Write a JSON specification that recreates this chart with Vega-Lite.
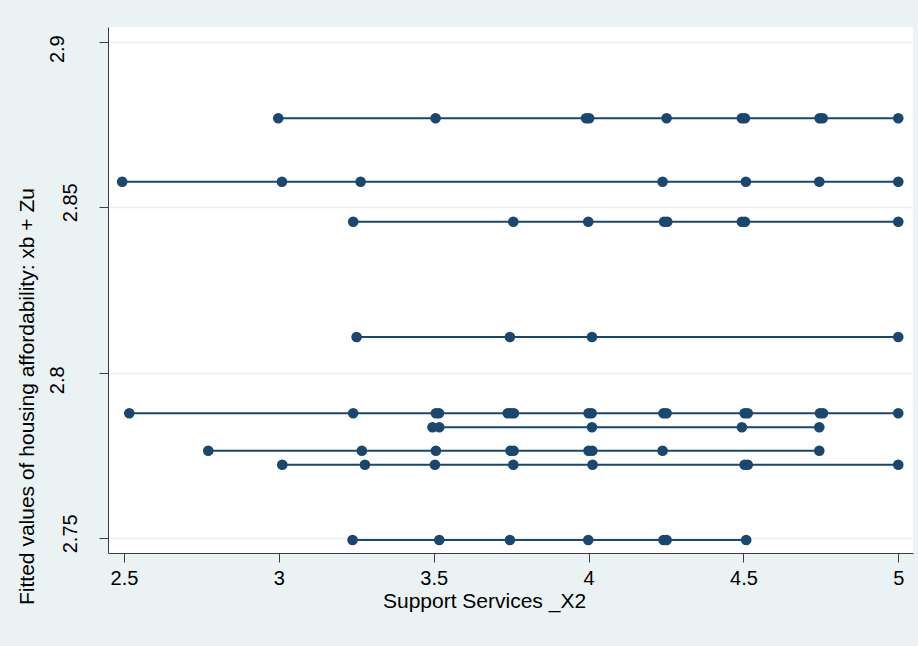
{
  "$schema": "https://vega.github.io/schema/vega-lite/v6.json",
  "autosize": {"type": "none"},
  "padding": {"left": 108, "top": 27, "right": 5, "bottom": 93},
  "width": 805,
  "height": 526,
  "background": "#eaf2f3",
  "config": {
    "font": "Liberation Sans",
    "view": {"fill": "white", "stroke": null}
  },
  "data": {
    "values": [
      {"grp": "A", "x": 2.998, "y": 2.87686},
      {"grp": "A", "x": 3.506, "y": 2.87686},
      {"grp": "A", "x": 3.992, "y": 2.87686},
      {"grp": "A", "x": 4.002, "y": 2.87686},
      {"grp": "A", "x": 4.252, "y": 2.87686},
      {"grp": "A", "x": 4.495, "y": 2.87686},
      {"grp": "A", "x": 4.505, "y": 2.87686},
      {"grp": "A", "x": 4.746, "y": 2.87686},
      {"grp": "A", "x": 4.756, "y": 2.87686},
      {"grp": "A", "x": 5.0, "y": 2.87686},

      {"grp": "B", "x": 2.494, "y": 2.85771},
      {"grp": "B", "x": 3.010, "y": 2.85771},
      {"grp": "B", "x": 3.264, "y": 2.85771},
      {"grp": "B", "x": 4.239, "y": 2.85771},
      {"grp": "B", "x": 4.508, "y": 2.85771},
      {"grp": "B", "x": 4.745, "y": 2.85771},
      {"grp": "B", "x": 5.0, "y": 2.85771},

      {"grp": "C", "x": 3.240, "y": 2.84563},
      {"grp": "C", "x": 3.757, "y": 2.84563},
      {"grp": "C", "x": 3.999, "y": 2.84563},
      {"grp": "C", "x": 4.244, "y": 2.84563},
      {"grp": "C", "x": 4.254, "y": 2.84563},
      {"grp": "C", "x": 4.495, "y": 2.84563},
      {"grp": "C", "x": 4.505, "y": 2.84563},
      {"grp": "C", "x": 5.0, "y": 2.84563},

      {"grp": "D", "x": 3.251, "y": 2.81081},
      {"grp": "D", "x": 3.746, "y": 2.81081},
      {"grp": "D", "x": 4.011, "y": 2.81081},
      {"grp": "D", "x": 5.0, "y": 2.81081},

      {"grp": "E", "x": 2.517, "y": 2.78776},
      {"grp": "E", "x": 3.240, "y": 2.78776},
      {"grp": "E", "x": 3.507, "y": 2.78776},
      {"grp": "E", "x": 3.517, "y": 2.78776},
      {"grp": "E", "x": 3.739, "y": 2.78776},
      {"grp": "E", "x": 3.749, "y": 2.78776},
      {"grp": "E", "x": 3.759, "y": 2.78776},
      {"grp": "E", "x": 4.000, "y": 2.78776},
      {"grp": "E", "x": 4.010, "y": 2.78776},
      {"grp": "E", "x": 4.242, "y": 2.78776},
      {"grp": "E", "x": 4.252, "y": 2.78776},
      {"grp": "E", "x": 4.504, "y": 2.78776},
      {"grp": "E", "x": 4.514, "y": 2.78776},
      {"grp": "E", "x": 4.747, "y": 2.78776},
      {"grp": "E", "x": 4.757, "y": 2.78776},
      {"grp": "E", "x": 5.0, "y": 2.78776},

      {"grp": "F", "x": 3.496, "y": 2.78353},
      {"grp": "F", "x": 3.518, "y": 2.78353},
      {"grp": "F", "x": 4.011, "y": 2.78353},
      {"grp": "F", "x": 4.495, "y": 2.78353},
      {"grp": "F", "x": 4.745, "y": 2.78353},

      {"grp": "G", "x": 2.772, "y": 2.77646},
      {"grp": "G", "x": 3.268, "y": 2.77646},
      {"grp": "G", "x": 3.507, "y": 2.77646},
      {"grp": "G", "x": 3.748, "y": 2.77646},
      {"grp": "G", "x": 3.758, "y": 2.77646},
      {"grp": "G", "x": 4.000, "y": 2.77646},
      {"grp": "G", "x": 4.012, "y": 2.77646},
      {"grp": "G", "x": 4.239, "y": 2.77646},
      {"grp": "G", "x": 4.745, "y": 2.77646},

      {"grp": "H", "x": 3.011, "y": 2.77223},
      {"grp": "H", "x": 3.278, "y": 2.77223},
      {"grp": "H", "x": 3.504, "y": 2.77223},
      {"grp": "H", "x": 3.757, "y": 2.77223},
      {"grp": "H", "x": 4.013, "y": 2.77223},
      {"grp": "H", "x": 4.504, "y": 2.77223},
      {"grp": "H", "x": 4.514, "y": 2.77223},
      {"grp": "H", "x": 5.0, "y": 2.77223},

      {"grp": "I", "x": 3.238, "y": 2.74949},
      {"grp": "I", "x": 3.518, "y": 2.74949},
      {"grp": "I", "x": 3.746, "y": 2.74949},
      {"grp": "I", "x": 3.999, "y": 2.74949},
      {"grp": "I", "x": 4.242, "y": 2.74949},
      {"grp": "I", "x": 4.252, "y": 2.74949},
      {"grp": "I", "x": 4.509, "y": 2.74949}
    ]
  },
  "encoding": {
    "x": {
      "field": "x",
      "type": "quantitative",
      "scale": {"domain": [2.4483, 5.0476], "nice": false, "zero": false},
      "axis": {
        "title": "Support Services _X2",
        "values": [2.5, 3, 3.5, 4, 4.5, 5],
        "format": "~g",
        "grid": false,
        "domainColor": "#3c3c3c",
        "domainWidth": 1,
        "tickColor": "#3c3c3c",
        "tickSize": 9,
        "labelPadding": 6,
        "labelFontSize": 20,
        "labelColor": "black",
        "labelFlush": false,
        "labelOverlap": false,
        "titleFontSize": 21,
        "titleFontWeight": "normal",
        "titleColor": "black",
        "titleX": 376,
        "titleY": 54,
        "titleAlign": "center",
        "titleBaseline": "alphabetic"
      }
    },
    "y": {
      "field": "y",
      "type": "quantitative",
      "scale": {"domain": [2.74556, 2.90444], "nice": false, "zero": false},
      "axis": {
        "title": "Fitted values of housing affordability: xb + Zu",
        "values": [2.75, 2.8, 2.85, 2.9],
        "format": "~g",
        "grid": true,
        "gridColor": "#eaf2f3",
        "gridWidth": 1.5,
        "domainColor": "#3c3c3c",
        "domainWidth": 1,
        "tickColor": "#3c3c3c",
        "tickSize": 9,
        "labelAngle": -90,
        "labelAlign": "center",
        "labelBaseline": "alphabetic",
        "labelPadding": {"condition": {"test": "datum.value == 2.9 || datum.value == 2.8", "value": 35.7}, "value": 22.3},
        "labelOffset": {"condition": {"test": "datum.value == 2.9 || datum.value == 2.8", "value": 7}, "value": -5},
        "labelFontSize": 20,
        "labelColor": "black",
        "labelFlush": false,
        "labelOverlap": false,
        "titleFontSize": 21,
        "titleFontWeight": "normal",
        "titleColor": "black",
        "titleAngle": -90,
        "titleX": -74.7,
        "titleY": 369,
        "titleAlign": "center",
        "titleBaseline": "alphabetic"
      }
    }
  },
  "layer": [
    {
      "mark": {"type": "line", "color": "#1a476f", "strokeWidth": 2},
      "encoding": {
        "detail": {"field": "grp", "type": "nominal"},
        "order": {"field": "x", "type": "quantitative"}
      }
    },
    {
      "mark": {"type": "point", "shape": "circle", "filled": true, "color": "#1a476f", "opacity": 1, "size": 113}
    }
  ]
}
